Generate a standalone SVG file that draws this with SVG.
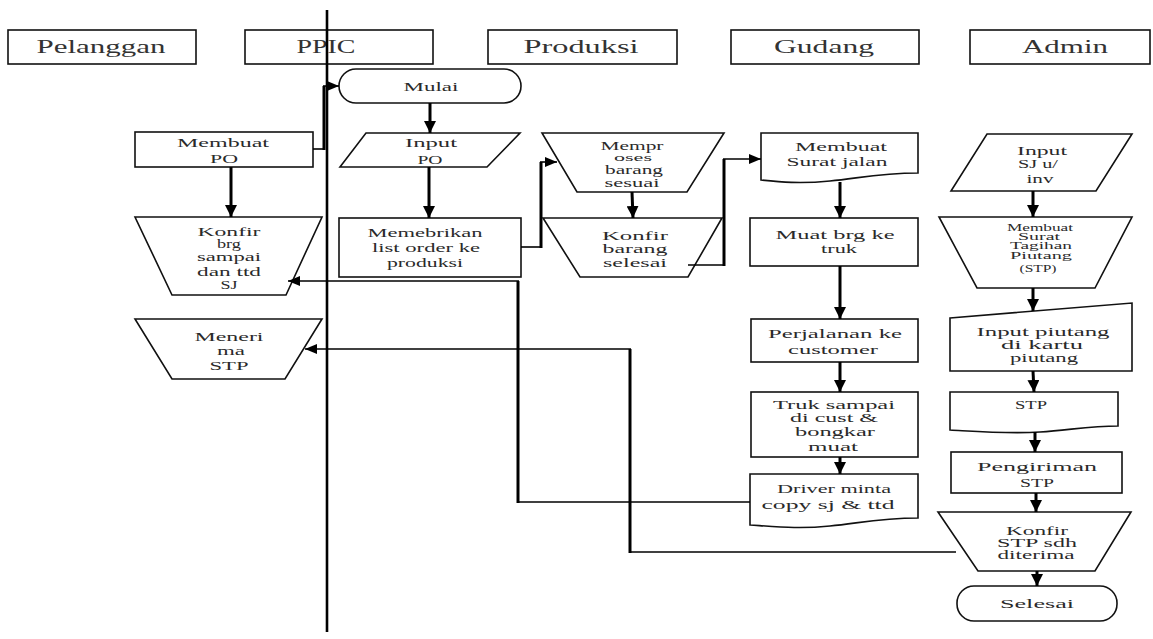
<svg xmlns="http://www.w3.org/2000/svg" width="1153" height="639" viewBox="0 0 1153 639">
<style>
.s{fill:#fff;stroke:#111;stroke-width:1.6}
.h{font-family:"Liberation Serif","Times New Roman",serif;font-size:19px;fill:#333;text-anchor:middle}
.t{font-family:"Liberation Serif","Times New Roman",serif;font-size:13px;fill:#2a2a2a;text-anchor:middle}
.d{font-family:"Liberation Serif","Times New Roman",serif;font-size:11.5px;fill:#2a2a2a;text-anchor:middle}
.sm{font-family:"Liberation Serif","Times New Roman",serif;font-size:9.5px;fill:#2a2a2a;text-anchor:middle}
.b{font-weight:bold}
.a{fill:none;stroke:#000;stroke-width:3}
.c{fill:none;stroke:#000;stroke-width:1.6}
.v{fill:none;stroke:#000;stroke-width:3}
</style>
<defs>
<marker id="ah" markerUnits="userSpaceOnUse" markerWidth="14" markerHeight="12" refX="12" refY="6" orient="auto"><path d="M0,0 L12,6 L0,12 Z" fill="#000"/></marker>
<marker id="as" markerUnits="userSpaceOnUse" markerWidth="14" markerHeight="10" refX="12" refY="5" orient="auto"><path d="M0,0 L12,5 L0,10 Z" fill="#000"/></marker>
</defs>
<rect width="1153" height="639" fill="#fff"/>

<g id="lanes">
<rect class="s" x="8" y="30" width="188" height="34"/>
<text class="h" x="101" y="53" textLength="129" lengthAdjust="spacingAndGlyphs">Pelanggan</text>
<rect class="s" x="245" y="30" width="188" height="34"/>
<text class="h" x="326" y="53" textLength="59" lengthAdjust="spacingAndGlyphs">PPIC</text>
<rect class="s" x="488" y="30" width="189" height="34"/>
<text class="h" x="581" y="53" textLength="115" lengthAdjust="spacingAndGlyphs">Produksi</text>
<rect class="s" x="731" y="30" width="188" height="34"/>
<text class="h" x="824" y="53" textLength="100" lengthAdjust="spacingAndGlyphs">Gudang</text>
<rect class="s" x="970" y="30" width="180" height="34"/>
<text class="h" x="1065" y="53" textLength="86" lengthAdjust="spacingAndGlyphs">Admin</text>
<line x1="327" y1="10" x2="327" y2="632" stroke="#000" stroke-width="2.6"/>
</g>

<g id="mulai">
<rect class="s" x="339" y="69" width="182" height="34" rx="17"/>
<text class="t" x="431" y="91" textLength="55" lengthAdjust="spacingAndGlyphs">Mulai</text>
</g>
<g id="membuat-po">
<rect class="s" x="135" y="132" width="178" height="35"/>
<text class="t" x="223" y="147" textLength="92" lengthAdjust="spacingAndGlyphs">Membuat</text>
<text class="t" x="224" y="163" textLength="28" lengthAdjust="spacingAndGlyphs">PO</text>
</g>
<g id="konfir-brg">
<polygon class="s" points="135,217 322,217 286,295 172,295"/>
<text class="d" x="229" y="236" textLength="63" lengthAdjust="spacingAndGlyphs">Konfir</text>
<text class="d" x="229" y="248" textLength="24" lengthAdjust="spacingAndGlyphs">brg</text>
<text class="d" x="229" y="261" textLength="64" lengthAdjust="spacingAndGlyphs">sampai</text>
<text class="d" x="229" y="276" textLength="64" lengthAdjust="spacingAndGlyphs">dan ttd</text>
<text class="d" x="229" y="289" textLength="17" lengthAdjust="spacingAndGlyphs">SJ</text>
</g>
<g id="menerima-stp">
<polygon class="s" points="135,319 322,319 285,379 172,379"/>
<text class="t" x="229" y="341" textLength="69" lengthAdjust="spacingAndGlyphs">Meneri</text>
<text class="t" x="231" y="355" textLength="28" lengthAdjust="spacingAndGlyphs">ma</text>
<text class="t" x="229" y="370" textLength="39" lengthAdjust="spacingAndGlyphs">STP</text>
</g>
<g id="input-po">
<polygon class="s" points="366,133 520,133 487,167 340,167"/>
<text class="t" x="431" y="147" textLength="52" lengthAdjust="spacingAndGlyphs">Input</text>
<text class="t" x="430" y="164" textLength="25" lengthAdjust="spacingAndGlyphs">PO</text>
</g>
<g id="memebrikan">
<rect class="s" x="339" y="218" width="182" height="59"/>
<text class="t" x="425" y="237" textLength="115" lengthAdjust="spacingAndGlyphs">Memebrikan</text>
<text class="t" x="426" y="252" textLength="108" lengthAdjust="spacingAndGlyphs">list order ke</text>
<text class="t" x="425" y="267" textLength="76" lengthAdjust="spacingAndGlyphs">produksi</text>
</g>
<g id="memproses">
<polygon class="s" points="542,133 724,133 687,192 577,192"/>
<text class="d" x="632" y="150" textLength="63" lengthAdjust="spacingAndGlyphs">Mempr</text>
<text class="sm" x="633" y="161" textLength="38" lengthAdjust="spacingAndGlyphs">oses</text>
<text class="d" x="634" y="174" textLength="58" lengthAdjust="spacingAndGlyphs">barang</text>
<text class="d" x="632" y="187" textLength="55" lengthAdjust="spacingAndGlyphs">sesuai</text>
</g>
<g id="konfir-barang">
<polygon class="s" points="543,218 722,218 688,277 580,277"/>
<text class="t" x="635" y="240" textLength="66" lengthAdjust="spacingAndGlyphs">Konfir</text>
<text class="t" x="635" y="253" textLength="65" lengthAdjust="spacingAndGlyphs">barang</text>
<text class="t" x="635" y="267" textLength="64" lengthAdjust="spacingAndGlyphs">selesai</text>
</g>
<g id="surat-jalan">
<path class="s" d="M761,133 H918 V173 C880,173 860,178 830,181 C800,184 780,182 761,180 Z"/>
<text class="t" x="841" y="151" textLength="92" lengthAdjust="spacingAndGlyphs">Membuat</text>
<text class="t" x="837" y="166" textLength="101" lengthAdjust="spacingAndGlyphs">Surat jalan</text>
</g>
<g id="muat">
<rect class="s" x="750" y="218" width="168" height="48"/>
<text class="t" x="835" y="239" textLength="119" lengthAdjust="spacingAndGlyphs">Muat brg ke</text>
<text class="t" x="839" y="253" textLength="36" lengthAdjust="spacingAndGlyphs">truk</text>
</g>
<g id="perjalanan">
<rect class="s" x="751" y="319" width="167" height="43"/>
<text class="t" x="835" y="338" textLength="134" lengthAdjust="spacingAndGlyphs">Perjalanan ke</text>
<text class="t" x="833" y="354" textLength="90" lengthAdjust="spacingAndGlyphs">customer</text>
</g>
<g id="truk">
<rect class="s" x="751" y="392" width="167" height="65"/>
<text class="d" x="834" y="409" textLength="122" lengthAdjust="spacingAndGlyphs">Truk sampai</text>
<text class="d" x="834" y="422" textLength="88" lengthAdjust="spacingAndGlyphs">di cust &amp;</text>
<text class="d" x="835" y="436" textLength="80" lengthAdjust="spacingAndGlyphs">bongkar</text>
<text class="d" x="833" y="451" textLength="50" lengthAdjust="spacingAndGlyphs">muat</text>
</g>
<g id="driver">
<path class="s" d="M750,474 H918 V518 C880,518 860,523 830,526 C800,529 780,527 750,525 Z"/>
<text class="t" x="834" y="493" textLength="114" lengthAdjust="spacingAndGlyphs">Driver minta</text>
<text class="t" x="828" y="509" textLength="133" lengthAdjust="spacingAndGlyphs">copy sj &amp; ttd</text>
</g>
<g id="input-sj">
<polygon class="s" points="987,134 1132,134 1096,191 951,191"/>
<text class="t" x="1042" y="155" textLength="50" lengthAdjust="spacingAndGlyphs">Input</text>
<text class="t" x="1038" y="168" textLength="40" lengthAdjust="spacingAndGlyphs">SJ u/</text>
<text class="t" x="1040" y="183" textLength="27" lengthAdjust="spacingAndGlyphs">inv</text>
</g>
<g id="surat-tagihan">
<polygon class="s" points="939,217 1132,217 1095,288 977,288"/>
<text class="sm" x="1040" y="231" textLength="66" lengthAdjust="spacingAndGlyphs">Membuat</text>
<text class="sm" x="1039" y="240" textLength="42" lengthAdjust="spacingAndGlyphs">Surat</text>
<text class="sm" x="1041" y="249" textLength="62" lengthAdjust="spacingAndGlyphs">Tagihan</text>
<text class="sm" x="1041" y="259" textLength="62" lengthAdjust="spacingAndGlyphs">Piutang</text>
<text class="sm" x="1038" y="272" textLength="37" lengthAdjust="spacingAndGlyphs">(STP)</text>
</g>
<g id="input-piutang">
<polygon class="s" points="950,318 1132,303 1132,371 950,371"/>
<text class="t" x="1043" y="336" textLength="133" lengthAdjust="spacingAndGlyphs">Input piutang</text>
<text class="t" x="1042" y="349" textLength="82" lengthAdjust="spacingAndGlyphs">di kartu</text>
<text class="t" x="1044" y="362" textLength="68" lengthAdjust="spacingAndGlyphs">piutang</text>
</g>
<g id="stp">
<path class="s" d="M950,392 H1118 V426 C1090,426 1070,430 1040,432 C1010,434 985,432 950,430 Z"/>
<text class="t" x="1031" y="409" textLength="32" lengthAdjust="spacingAndGlyphs">STP</text>
</g>
<g id="pengiriman">
<rect class="s" x="951" y="452" width="171" height="41"/>
<text class="t" x="1037" y="471" textLength="120" lengthAdjust="spacingAndGlyphs">Pengiriman</text>
<text class="t" x="1037" y="487" textLength="34" lengthAdjust="spacingAndGlyphs">STP</text>
</g>
<g id="konfir-stp">
<polygon class="s" points="938,512 1131,512 1095,571 978,571"/>
<text class="d" x="1037" y="535" textLength="62" lengthAdjust="spacingAndGlyphs">Konfir</text>
<text class="d" x="1037" y="547" textLength="80" lengthAdjust="spacingAndGlyphs">STP sdh</text>
<text class="d" x="1036" y="559" textLength="77" lengthAdjust="spacingAndGlyphs">diterima</text>
</g>
<g id="selesai">
<rect class="s" x="957" y="586" width="160" height="35" rx="17"/>
<text class="t" x="1037" y="608" textLength="74" lengthAdjust="spacingAndGlyphs">Selesai</text>
</g>

<g id="connectors">
<path class="a" d="M430,103 V133" marker-end="url(#ah)"/>
<path class="a" d="M429,167 V218" marker-end="url(#ah)"/>
<path class="a" d="M231,167 V217" marker-end="url(#ah)"/>
<path class="c" d="M313,149 H324"/>
<path class="v" d="M324,150 V86"/>
<path class="c" d="M323,86 H339" marker-end="url(#as)"/>
<path class="c" d="M521,247 H541"/>
<path class="v" d="M541,248 V162"/>
<path class="c" d="M540,162 H557" marker-end="url(#as)"/>
<path class="a" d="M632,192 L633,218" marker-end="url(#ah)"/>
<path class="c" d="M688,265 H724"/>
<path class="v" d="M724,266 V159"/>
<path class="c" d="M723,159 H761" marker-end="url(#as)"/>
<path class="a" d="M840,182 V218" marker-end="url(#ah)"/>
<path class="a" d="M840,266 V319" marker-end="url(#ah)"/>
<path class="a" d="M840,362 V392" marker-end="url(#ah)"/>
<path class="a" d="M840,457 V474" marker-end="url(#ah)"/>
<path class="c" d="M750,502 H518"/>
<path class="v" d="M518,503 V281"/>
<path class="c" d="M519,281 H288" marker-end="url(#as)"/>
<path class="c" d="M956,552 H630"/>
<path class="v" d="M630,553 V349"/>
<path class="c" d="M631,349 H305" marker-end="url(#as)"/>
<path class="a" d="M1033,191 V217" marker-end="url(#ah)"/>
<path class="a" d="M1033,288 V311" marker-end="url(#ah)"/>
<path class="a" d="M1033,371 L1034,392" marker-end="url(#ah)"/>
<path class="a" d="M1035,432 V452" marker-end="url(#ah)"/>
<path class="a" d="M1036,493 V512" marker-end="url(#ah)"/>
<path class="a" d="M1037,571 V586" marker-end="url(#ah)"/>
</g>
</svg>
